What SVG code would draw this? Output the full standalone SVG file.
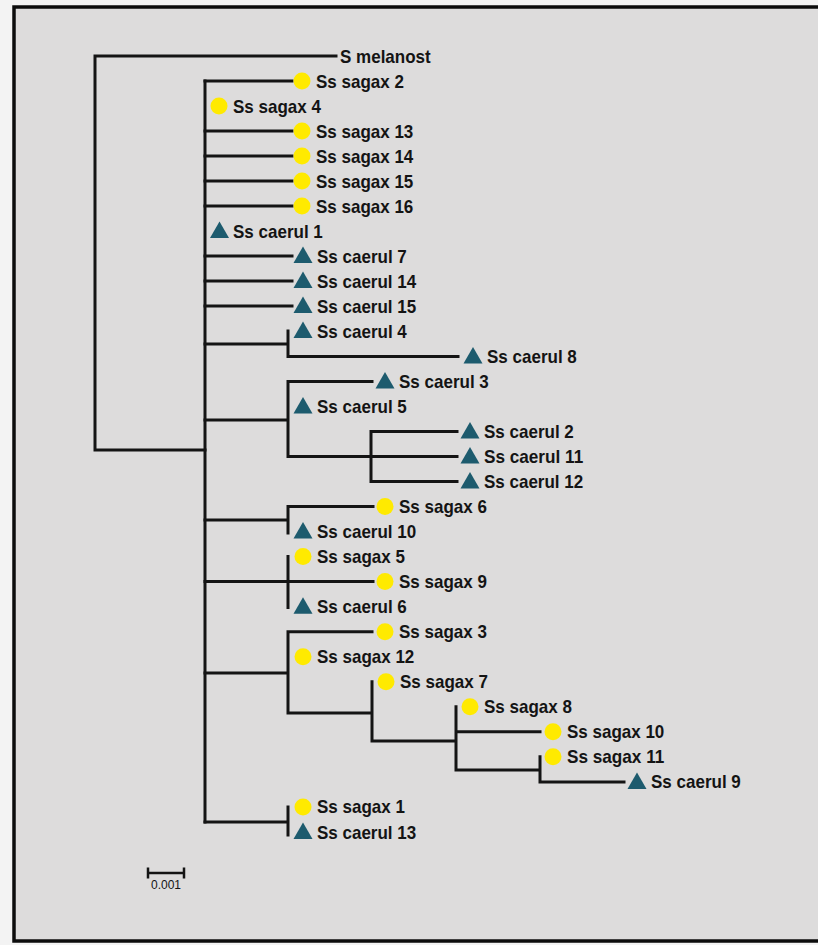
<svg xmlns="http://www.w3.org/2000/svg" xmlns:xlink="http://www.w3.org/1999/xlink" width="818" height="945" viewBox="0 0 818 945">
  <style>
    .edge { fill: none; stroke: #141414; stroke-width: 3; stroke-linecap: square; }
    .lbl { font-family: "Liberation Sans", Arial, sans-serif; font-weight: bold; font-size: 19px; fill: #141414; }
    .scale { font-family: "Liberation Sans", Arial, sans-serif; font-size: 12px; fill: #141414; }
  </style>
  <defs>
    <circle id="dot" cx="0" cy="0" r="8.5" fill="#ffea00"/>
    <polygon id="tri" points="0,-9.5 -9.5,7 9.5,7" fill="#1d5b6e"/>
  </defs>

  <!-- paper and frame -->
  <rect x="0" y="0" width="818" height="945" fill="#f3f3f3"/>
  <rect x="14" y="7" width="830" height="934" fill="#dddcdc" stroke="#0c0c0c" stroke-width="3.5"/>

  <!-- branches -->
  <g id="connectors" class="edge">
    <!-- root -->
    <path d="M95,56 V450 M95,56 H336 M95,450 H205"/>
    <!-- main clade backbone -->
    <path d="M205,81 V822"/>
    <path d="M205,81 H292 M205,131 H292 M205,156 H292 M205,181 H292 M205,206 H292"/>
    <path d="M205,256 H292 M205,281 H292 M205,306 H292"/>
    <!-- caerul 4 / caerul 8 -->
    <path d="M205,344 H288 M288,331 V356.4 H458"/>
    <!-- caerul 3 / caerul 5 / (2, 11, 12) -->
    <path d="M205,420 H288 M288,381.4 V456.5 M288,381.4 H372 M288,456.5 H457 M371,431.4 V481.5 M371,431.4 H457 M371,481.5 H457"/>
    <!-- sagax 6 / caerul 10 -->
    <path d="M205,520 H288 M288,506.5 V533 M288,506.5 H373"/>
    <!-- sagax 5 / sagax 9 / caerul 6 -->
    <path d="M205,581.6 H373 M288,556.6 V607.5"/>
    <!-- sagax 3 ... caerul 9 -->
    <path d="M205,673 H288 M288,631.7 V713 M288,631.7 H372 M288,713 H372 M372,681.8 V741 M372,741 H456 M456,706.8 V770 M456,731.8 H540 M456,770 H540 M540,756.8 V781.9 H624"/>
    <!-- sagax 1 / caerul 13 -->
    <path d="M205,822 H288 M288,806.9 V835"/>
  </g>

  <!-- leaves -->
  <g id="n-melanost"><text class="lbl" x="340" y="62.5" textLength="90.7" lengthAdjust="spacingAndGlyphs">S melanost</text></g>
  <g id="n-sagax2"><use xlink:href="#dot" x="302" y="81"/><text class="lbl" x="316" y="87.5" textLength="87.9" lengthAdjust="spacingAndGlyphs">Ss sagax 2</text></g>
  <g id="n-sagax4"><use xlink:href="#dot" x="219" y="106"/><text class="lbl" x="233" y="112.5" textLength="87.9" lengthAdjust="spacingAndGlyphs">Ss sagax 4</text></g>
  <g id="n-sagax13"><use xlink:href="#dot" x="302" y="131"/><text class="lbl" x="316" y="137.5" textLength="97.3" lengthAdjust="spacingAndGlyphs">Ss sagax 13</text></g>
  <g id="n-sagax14"><use xlink:href="#dot" x="302" y="156"/><text class="lbl" x="316" y="162.5" textLength="97.3" lengthAdjust="spacingAndGlyphs">Ss sagax 14</text></g>
  <g id="n-sagax15"><use xlink:href="#dot" x="302" y="181"/><text class="lbl" x="316" y="187.5" textLength="97.3" lengthAdjust="spacingAndGlyphs">Ss sagax 15</text></g>
  <g id="n-sagax16"><use xlink:href="#dot" x="302" y="206"/><text class="lbl" x="316" y="212.5" textLength="97.3" lengthAdjust="spacingAndGlyphs">Ss sagax 16</text></g>
  <g id="n-caerul1"><use xlink:href="#tri" x="219.5" y="231"/><text class="lbl" x="233" y="237.5" textLength="89.8" lengthAdjust="spacingAndGlyphs">Ss caerul 1</text></g>
  <g id="n-caerul7"><use xlink:href="#tri" x="303" y="256"/><text class="lbl" x="317" y="262.5" textLength="89.8" lengthAdjust="spacingAndGlyphs">Ss caerul 7</text></g>
  <g id="n-caerul14"><use xlink:href="#tri" x="303" y="281"/><text class="lbl" x="317" y="287.5" textLength="99.2" lengthAdjust="spacingAndGlyphs">Ss caerul 14</text></g>
  <g id="n-caerul15"><use xlink:href="#tri" x="303" y="306"/><text class="lbl" x="317" y="312.5" textLength="99.2" lengthAdjust="spacingAndGlyphs">Ss caerul 15</text></g>
  <g id="n-caerul4"><use xlink:href="#tri" x="303" y="331"/><text class="lbl" x="317" y="337.5" textLength="89.8" lengthAdjust="spacingAndGlyphs">Ss caerul 4</text></g>
  <g id="n-caerul8"><use xlink:href="#tri" x="473" y="356.4"/><text class="lbl" x="487" y="362.9" textLength="89.8" lengthAdjust="spacingAndGlyphs">Ss caerul 8</text></g>
  <g id="n-caerul3"><use xlink:href="#tri" x="385" y="381.4"/><text class="lbl" x="399" y="387.9" textLength="89.8" lengthAdjust="spacingAndGlyphs">Ss caerul 3</text></g>
  <g id="n-caerul5"><use xlink:href="#tri" x="303" y="406.4"/><text class="lbl" x="317" y="412.9" textLength="89.8" lengthAdjust="spacingAndGlyphs">Ss caerul 5</text></g>
  <g id="n-caerul2"><use xlink:href="#tri" x="470" y="431.4"/><text class="lbl" x="484" y="437.9" textLength="89.8" lengthAdjust="spacingAndGlyphs">Ss caerul 2</text></g>
  <g id="n-caerul11"><use xlink:href="#tri" x="470" y="456.5"/><text class="lbl" x="484" y="463" textLength="99.2" lengthAdjust="spacingAndGlyphs">Ss caerul 11</text></g>
  <g id="n-caerul12"><use xlink:href="#tri" x="470" y="481.5"/><text class="lbl" x="484" y="488" textLength="99.2" lengthAdjust="spacingAndGlyphs">Ss caerul 12</text></g>
  <g id="n-sagax6"><use xlink:href="#dot" x="385" y="506.5"/><text class="lbl" x="399" y="513" textLength="87.9" lengthAdjust="spacingAndGlyphs">Ss sagax 6</text></g>
  <g id="n-caerul10"><use xlink:href="#tri" x="303" y="531.5"/><text class="lbl" x="317" y="538" textLength="99.2" lengthAdjust="spacingAndGlyphs">Ss caerul 10</text></g>
  <g id="n-sagax5"><use xlink:href="#dot" x="303" y="556.6"/><text class="lbl" x="317" y="563.1" textLength="87.9" lengthAdjust="spacingAndGlyphs">Ss sagax 5</text></g>
  <g id="n-sagax9"><use xlink:href="#dot" x="385" y="581.6"/><text class="lbl" x="399" y="588.1" textLength="87.9" lengthAdjust="spacingAndGlyphs">Ss sagax 9</text></g>
  <g id="n-caerul6"><use xlink:href="#tri" x="303" y="606.7"/><text class="lbl" x="317" y="613.2" textLength="89.8" lengthAdjust="spacingAndGlyphs">Ss caerul 6</text></g>
  <g id="n-sagax3"><use xlink:href="#dot" x="385" y="631.7"/><text class="lbl" x="399" y="638.2" textLength="87.9" lengthAdjust="spacingAndGlyphs">Ss sagax 3</text></g>
  <g id="n-sagax12"><use xlink:href="#dot" x="303" y="656.7"/><text class="lbl" x="317" y="663.2" textLength="97.3" lengthAdjust="spacingAndGlyphs">Ss sagax 12</text></g>
  <g id="n-sagax7"><use xlink:href="#dot" x="386" y="681.8"/><text class="lbl" x="400" y="688.3" textLength="87.9" lengthAdjust="spacingAndGlyphs">Ss sagax 7</text></g>
  <g id="n-sagax8"><use xlink:href="#dot" x="470" y="706.8"/><text class="lbl" x="484" y="713.3" textLength="87.9" lengthAdjust="spacingAndGlyphs">Ss sagax 8</text></g>
  <g id="n-sagax10"><use xlink:href="#dot" x="553" y="731.8"/><text class="lbl" x="567" y="738.3" textLength="97.3" lengthAdjust="spacingAndGlyphs">Ss sagax 10</text></g>
  <g id="n-sagax11"><use xlink:href="#dot" x="553" y="756.8"/><text class="lbl" x="567" y="763.3" textLength="97.3" lengthAdjust="spacingAndGlyphs">Ss sagax 11</text></g>
  <g id="n-caerul9"><use xlink:href="#tri" x="637" y="781.9"/><text class="lbl" x="651" y="788.4" textLength="89.8" lengthAdjust="spacingAndGlyphs">Ss caerul 9</text></g>
  <g id="n-sagax1"><use xlink:href="#dot" x="303" y="806.9"/><text class="lbl" x="317" y="813.4" textLength="87.9" lengthAdjust="spacingAndGlyphs">Ss sagax 1</text></g>
  <g id="n-caerul13"><use xlink:href="#tri" x="303" y="832"/><text class="lbl" x="317" y="838.5" textLength="99.2" lengthAdjust="spacingAndGlyphs">Ss caerul 13</text></g>

  <!-- scale bar -->
  <g id="scale-bar">
    <path d="M148,873 H184 M148,867.5 V878.5 M184,867.5 V878.5" fill="none" stroke="#141414" stroke-width="2.5"/>
    <text class="scale" x="166" y="889" text-anchor="middle">0.001</text>
  </g>
</svg>
